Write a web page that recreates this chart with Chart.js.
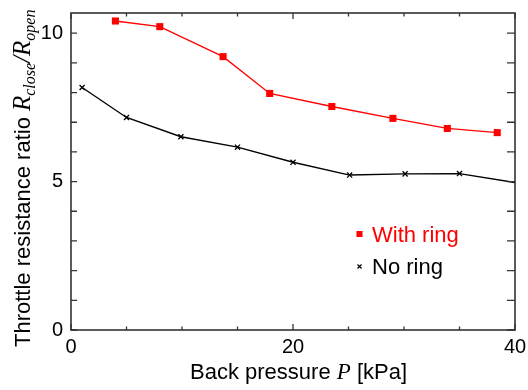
<!DOCTYPE html>
<html>
<head>
<meta charset="utf-8">
<script src="https://cdn.jsdelivr.net/npm/chart.js@4.4.1/dist/chart.umd.min.js"></script>
<style>
  html, body { margin: 0; padding: 0; background: #fff; }
  #wrap { width: 528px; height: 390px; }
</style>
</head>
<body>
<div id="wrap"><canvas id="ratioChart" width="528" height="390"></canvas></div>
<script>
// Datos
const withRingP = [4, 8, 13.7, 17.9, 23.5, 29.0, 33.9, 38.4];
const withRingRatio = [10.41, 10.22, 9.21, 7.97, 7.53, 7.13, 6.79, 6.65];
const noRingP = [1.0, 5.0, 9.9, 15.0, 20.0, 25.1, 30.1, 35.0, 40];
const noRingRatio = [8.17, 7.16, 6.51, 6.16, 5.65, 5.22, 5.26, 5.27, 4.97];

const xTickLabels = [0, 20, 40];
const yTickLabels = [0, 5, 10];
const yMinorTicks = [0, 1, 2, 3, 4, 5, 6, 7, 8, 9, 10];

const SANS = '"Liberation Sans", Arial, sans-serif';
const SERIF = '"Liberation Serif", "Times New Roman", serif';
const AXIS_COLOR = '#333';

function toPoints(xs, ys) {
    return xs.map((x, i) => ({ x: x, y: ys[i] }));
}

// Marco, marcas interiores, títulos y leyenda
const framePlugin = {
    id: 'frame',
    afterDraw(chart) {
        const ctx = chart.ctx;
        const a = chart.chartArea;
        const xs = chart.scales.x;
        const ys = chart.scales.y;

        ctx.save();
        ctx.strokeStyle = AXIS_COLOR;
        ctx.lineWidth = 1.6;
        ctx.strokeRect(a.left, a.top, a.right - a.left, a.bottom - a.top);

        ctx.lineWidth = 1.3;
        ctx.beginPath();
        xs.ticks.forEach(t => {
            const px = xs.getPixelForValue(t.value);
            const len = t.value % 20 === 0 ? 6 : 3.5;
            ctx.moveTo(px, a.bottom); ctx.lineTo(px, a.bottom - len);
            ctx.moveTo(px, a.top); ctx.lineTo(px, a.top + len);
        });
        ys.ticks.forEach(t => {
            const py = ys.getPixelForValue(t.value);
            ctx.moveTo(a.left, py); ctx.lineTo(a.left + 6, py);
            ctx.moveTo(a.right, py); ctx.lineTo(a.right - 8, py);
        });
        ctx.stroke();

        // Título eje X
        ctx.fillStyle = '#000';
        ctx.textBaseline = 'alphabetic';
        ctx.textAlign = 'left';
        const parts = [
            { t: 'Back pressure ', f: '22px ' + SANS },
            { t: 'P', f: 'italic 23px ' + SERIF },
            { t: ' [kPa]', f: '22px ' + SANS }
        ];
        let x = 190;
        parts.forEach(p => {
            ctx.font = p.f;
            ctx.fillText(p.t, x, 379);
            x += ctx.measureText(p.t).width;
        });

        // Título eje Y (rotado)
        ctx.save();
        ctx.translate(30, 347);
        ctx.rotate(-Math.PI / 2);
        const yparts = [
            { t: 'Throttle resistance ratio', f: '22px ' + SANS, dy: 0 },
            { t: ' ', f: '22px ' + SANS, dy: 0 },
            { t: 'R', f: 'italic 25px ' + SERIF, dy: 0 },
            { t: 'close', f: 'italic 16px ' + SERIF, dy: 5 },
            { t: '/', f: 'italic 25px ' + SERIF, dy: 0 },
            { t: 'R', f: 'italic 25px ' + SERIF, dy: 0 },
            { t: 'open', f: 'italic 16px ' + SERIF, dy: 5 }
        ];
        let yx = 0;
        yparts.forEach(p => {
            ctx.font = p.f;
            ctx.fillText(p.t, yx, p.dy);
            yx += ctx.measureText(p.t).width;
        });
        ctx.restore();

        // Leyenda
        const lx = 359.5;
        const rows = [241.5, 273.5];
        chart.data.datasets.forEach((ds, i) => {
            const by = rows[i];
            ctx.fillStyle = ds.borderColor;
            ctx.strokeStyle = ds.borderColor;
            if (ds.pointStyle === 'rect') {
                ctx.fillRect(lx - 3, by - 10.5, 6, 6);
            } else {
                ctx.lineWidth = 1.2;
                ctx.beginPath();
                ctx.moveTo(lx - 2, by - 9); ctx.lineTo(lx + 2, by - 5);
                ctx.moveTo(lx + 2, by - 9); ctx.lineTo(lx - 2, by - 5);
                ctx.stroke();
            }
            ctx.font = '22px ' + SANS;
            ctx.fillText(ds.label, 372, by);
        });
        ctx.restore();
    }
};

const ctx = document.getElementById('ratioChart').getContext('2d');
new Chart(ctx, {
    type: 'scatter',
    data: {
        datasets: [
            {
                label: 'With ring',
                data: toPoints(withRingP, withRingRatio),
                showLine: true,
                borderColor: '#ff0000',
                backgroundColor: '#ff0000',
                borderWidth: 1.3,
                pointStyle: 'rect',
                pointRadius: 5,
                pointBorderWidth: 0,
                pointHoverRadius: 5
            },
            {
                label: 'No ring',
                data: toPoints(noRingP, noRingRatio),
                showLine: true,
                borderColor: '#000000',
                backgroundColor: '#000000',
                borderWidth: 1.4,
                pointStyle: 'crossRot',
                pointRadius: c => (c.raw && c.raw.x >= 40 ? 0 : 3.6),
                pointBorderWidth: 1.3,
                pointHoverRadius: 3.6
            }
        ]
    },
    options: {
        responsive: false,
        animation: false,
        layout: { padding: { top: 13, right: 13, left: 0, bottom: 0 } },
        plugins: {
            legend: { display: false },
            tooltip: { enabled: false }
        },
        scales: {
            x: {
                type: 'linear',
                min: 0,
                max: 40,
                grid: { display: false, drawTicks: false },
                border: { display: false },
                afterFit: s => { s.height = 60; s.paddingLeft = 0; s.paddingRight = 0; },
                ticks: {
                    stepSize: 5,
                    autoSkip: false,
                    maxRotation: 0,
                    padding: 5,
                    color: '#000',
                    font: { family: SANS, size: 20 },
                    callback: v => (xTickLabels.includes(v) ? String(v) : '')
                }
            },
            y: {
                type: 'linear',
                min: 0,
                max: 10.68,
                grid: { display: false, drawTicks: false },
                border: { display: false },
                afterFit: s => { s.width = 71; s.paddingTop = 0; s.paddingBottom = 0; },
                afterBuildTicks: s => { s.ticks = yMinorTicks.map(v => ({ value: v })); },
                ticks: {
                    autoSkip: false,
                    padding: 8,
                    color: '#000',
                    font: { family: SANS, size: 20 },
                    callback: v => (yTickLabels.includes(v) ? String(v) : '')
                }
            }
        }
    },
    plugins: [framePlugin]
});
</script>
</body>
</html>
